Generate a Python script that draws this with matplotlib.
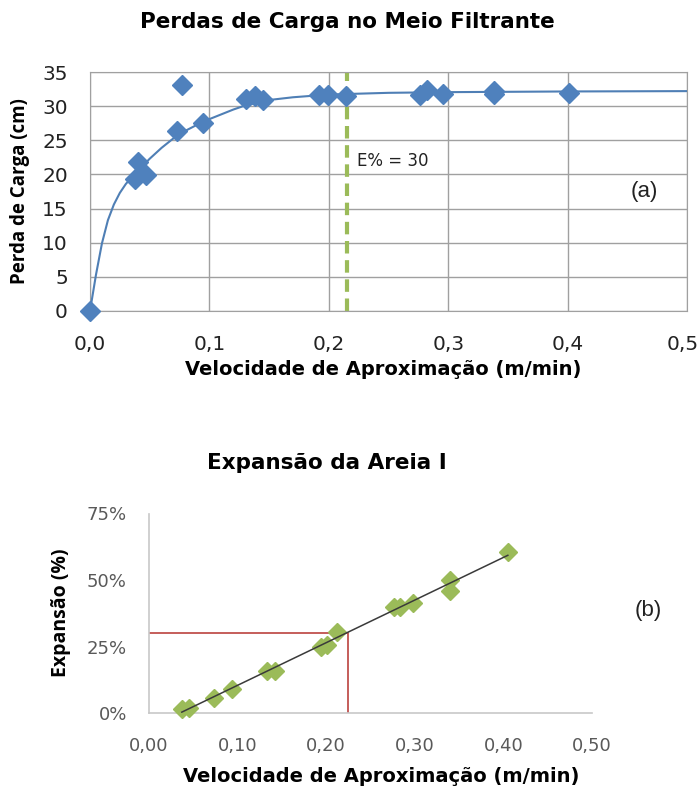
import numpy as np
import matplotlib
matplotlib.use("Agg")
import matplotlib.pyplot as plt
from matplotlib.ticker import FuncFormatter
from matplotlib.transforms import ScaledTranslation

# (a) perda de carga x velocidade
vel_a = [0.0, 0.0375, 0.040, 0.047, 0.073, 0.077, 0.095, 0.131, 0.138, 0.145,
         0.192, 0.199, 0.214, 0.276, 0.282, 0.296, 0.338, 0.338, 0.401]
perda = [0.0, 19.3, 21.8, 19.9, 26.4, 33.1, 27.5, 31.0, 31.5, 30.9,
         31.6, 31.6, 31.5, 31.7, 32.3, 31.8, 32.2, 31.8, 31.9]
# linha de tendencia
trend_x = [0.0, 0.005, 0.01, 0.015, 0.02, 0.025, 0.03, 0.035, 0.04, 0.05,
           0.06, 0.07, 0.08, 0.09, 0.10, 0.11, 0.12, 0.13, 0.15, 0.17,
           0.20, 0.25, 0.30, 0.40, 0.50]
trend_y = [0.0, 5.3, 9.9, 13.3, 15.6, 17.3, 18.6, 19.6, 20.5, 22.3,
           23.9, 25.3, 26.4, 27.3, 28.1, 28.8, 29.5, 30.1, 30.9, 31.3,
           31.7, 31.95, 32.05, 32.15, 32.2]
vel_e30 = 0.215

# (b) expansao x velocidade
vel_b = [0.037, 0.045, 0.073, 0.094, 0.133, 0.142, 0.194, 0.201, 0.212,
         0.277, 0.283, 0.298, 0.340, 0.340, 0.405]
expansao = [1.5, 2.0, 5.5, 9.0, 15.8, 15.8, 25.0, 25.5, 30.5,
            40.0, 40.0, 41.5, 50.0, 45.8, 60.5]
ref_vel = 0.225
ref_exp = 30.0

plt.rcParams["font.family"] = ["DejaVu Sans"]
LABEL_FONT = "Open Sans"

fig = plt.figure(figsize=(6.99, 7.94), dpi=100)

# ---------- grafico (a) ----------
ax1 = fig.add_axes([90 / 699, 1 - 311 / 794, 597 / 699, 239 / 794])
ax1.plot(trend_x, trend_y, color="#4f7fb5", lw=1.5, zorder=3)
ax1.plot(vel_a, perda, linestyle="none", marker="D", ms=10.5,
         color="#4f81bd", zorder=4, clip_on=False)
ax1.axvline(vel_e30, color="#9bbb59", lw=3, ls=(0, (3, 1.6)), zorder=2)
ax1.text(0.2235, 22, "E% = 30", fontsize=12, va="center", ha="left",
         color="#222222")
ax1.text(0.464, 17.5, "(a)", fontsize=16, va="center", ha="center",
         family="Liberation Sans", color="#222222")

ax1.set_xlim(0, 0.5)
ax1.set_ylim(0, 35)
ax1.set_xticks(np.arange(0, 0.51, 0.1))
ax1.set_yticks(np.arange(0, 36, 5))
ax1.xaxis.set_major_formatter(FuncFormatter(lambda v, pos: f"{v:.1f}".replace(".", ",")))
ax1.grid(True, color="#a0a0a0", lw=1)
ax1.set_axisbelow(True)
for s in ax1.spines.values():
    s.set_color("#a0a0a0")
ax1.tick_params(length=0, labelsize=14.5, colors="#222222")
ax1.tick_params(axis="x", pad=17)
ax1.tick_params(axis="y", pad=16)
# ultimo rotulo do eixo x encostado na borda: puxa um pouco para dentro
last = ax1.get_xticklabels()[-1]
last.set_transform(last.get_transform() + ScaledTranslation(-0.04, 0, fig.dpi_scale_trans))
ax1.set_ylabel("Perda de Carga (cm)", fontsize=13.5, fontweight="bold",
               family=LABEL_FONT)
ax1.yaxis.set_label_coords((30 - 90) / 597, 0.5)

fig.text(347 / 699, 1 - 22 / 794, "Perdas de Carga no Meio Filtrante",
         fontsize=15.5, fontweight="bold", ha="center", va="center")
fig.text(383 / 699, 1 - 370 / 794, "Velocidade de Aproximação (m/min)",
         fontsize=14, fontweight="bold", ha="center", va="center")

# ---------- grafico (b) ----------
ax2 = fig.add_axes([149 / 699, 1 - 713 / 794, 443 / 699, 199.5 / 794])
m, b = np.polyfit(vel_b, expansao, 1)
xl = np.array([min(vel_b), max(vel_b)])
ax2.plot(vel_b, expansao, linestyle="none", marker="D", ms=9,
         color="#9bbb59", zorder=3, clip_on=False)
ax2.plot(xl, m * xl + b, color="#3a3a3a", lw=1.1, zorder=4)
ax2.plot([0, ref_vel, ref_vel], [ref_exp, ref_exp, 0], color="#c0504d",
         lw=1.3, zorder=2)
ax2.text(0.563, 38.7, "(b)", fontsize=16, va="center", ha="center",
         family="Liberation Sans", color="#222222", clip_on=False)

ax2.set_xlim(0, 0.5)
ax2.set_ylim(0, 75)
ax2.set_xticks(np.arange(0, 0.51, 0.1))
ax2.set_yticks([0, 25, 50, 75])
ax2.xaxis.set_major_formatter(FuncFormatter(lambda v, pos: f"{v:.2f}".replace(".", ",")))
ax2.yaxis.set_major_formatter(FuncFormatter(lambda v, pos: f"{v:.0f}%"))
for side in ["top", "right"]:
    ax2.spines[side].set_visible(False)
for side in ["left", "bottom"]:
    ax2.spines[side].set_color("#c8c8c8")
    ax2.spines[side].set_linewidth(1.2)
ax2.tick_params(length=0, labelsize=13, colors="#595959")
ax2.tick_params(axis="x", pad=17)
ax2.tick_params(axis="y", pad=16)
ax2.set_ylabel("Expansão (%)", fontsize=14, fontweight="bold", family=LABEL_FONT)
ax2.yaxis.set_label_coords((71 - 149) / 443, (713 - 613) / 199.5)

fig.text(327 / 699, 1 - 463 / 794, "Expansão da Areia I",
         fontsize=15.5, fontweight="bold", ha="center", va="center")
fig.text(381 / 699, 1 - 776 / 794, "Velocidade de Aproximação (m/min)",
         fontsize=14, fontweight="bold", ha="center", va="center")

fig.savefig("out.png", dpi=100)
